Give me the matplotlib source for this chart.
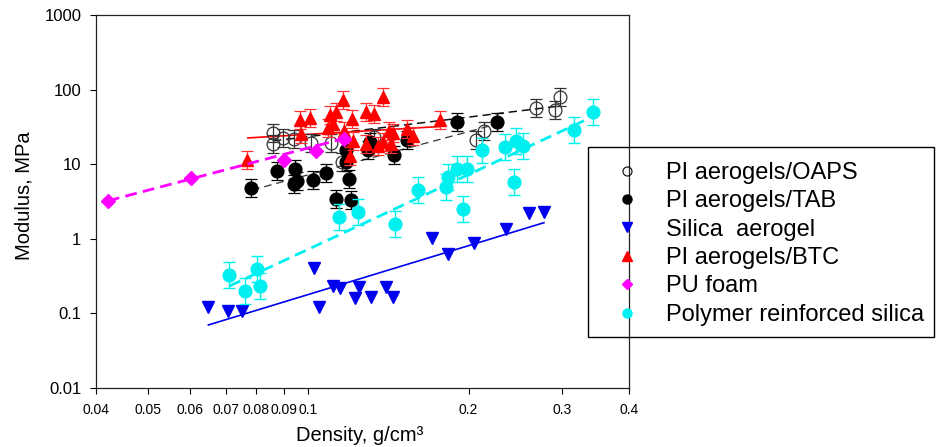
import matplotlib
matplotlib.use("Agg")
import matplotlib.pyplot as plt
from matplotlib.lines import Line2D
from matplotlib.patches import Rectangle
import numpy as np

plt.rcParams['font.family'] = ['Liberation Sans', 'DejaVu Sans']
plt.rcParams['lines.scale_dashes'] = False

# ---------------- data ----------------
oaps_x = [0.0861, 0.0861, 0.0897, 0.0940, 0.1012, 0.1102, 0.1160, 0.1330, 0.2066, 0.2141, 0.2676, 0.2905, 0.2968]
oaps_y = [26.4, 18.4, 22.3, 22.1, 19.0, 19.5, 10.6, 22.8, 20.9, 27.6, 56.6, 52.8, 79.6]

tab_x = [0.0781, 0.0873, 0.0945, 0.0952, 0.0940, 0.1023, 0.1081, 0.1127, 0.1203, 0.1193,
         0.1178, 0.1178, 0.1307, 0.1295, 0.1451, 0.1531, 0.1905, 0.2264]
tab_y = [4.80, 8.11, 8.71, 5.95, 5.43, 6.20, 7.62, 3.45, 3.28, 6.27,
         15.4, 10.7, 19.9, 15.5, 13.4, 20.9, 36.8, 36.8]

silica_x = [0.0650, 0.0707, 0.0753, 0.1026, 0.1048, 0.1112, 0.1148, 0.1248, 0.1223, 0.1315,
            0.1399, 0.1445, 0.1706, 0.1828, 0.2051, 0.2351, 0.2600, 0.2770]
silica_y = [0.123, 0.108, 0.109, 0.402, 0.123, 0.233, 0.221, 0.224, 0.159, 0.168,
            0.224, 0.168, 1.016, 0.625, 0.871, 1.34, 2.20, 2.31]

btc_x = [0.0769, 0.0966, 0.1008, 0.0968, 0.1099, 0.1128, 0.1165, 0.1091, 0.1115, 0.1208,
         0.1284, 0.1328, 0.1380, 0.1166, 0.1214, 0.1197, 0.1283, 0.1354, 0.1384, 0.1421,
         0.1443, 0.1431, 0.1533, 0.1576, 0.1768]
btc_y = [11.28, 38.8, 41.6, 25.6, 45.2, 50.1, 72.5, 31.0, 35.1, 40.4,
         50.8, 47.8, 79.1, 27.9, 20.5, 12.7, 18.9, 17.8, 19.9, 27.9,
         25.8, 18.9, 29.4, 23.9, 39.6]

pu_x = [0.0421, 0.0602, 0.0901, 0.1035, 0.1168]
pu_y = [3.23, 6.49, 11.56, 15.2, 22.1]

prs_x = [0.0711, 0.0762, 0.0803, 0.0812, 0.1144, 0.1242, 0.1456, 0.1608, 0.1814, 0.1832,
         0.1905, 0.1989, 0.1955, 0.2124, 0.2338, 0.2455, 0.2527, 0.2434, 0.3154, 0.3428]
prs_y = [0.327, 0.2015, 0.394, 0.233, 1.977, 2.31, 1.58, 4.47, 4.94, 6.80,
         8.62, 8.62, 2.49, 15.3, 16.8, 20.7, 17.5, 5.81, 28.7, 49.6]

# relative (multiplicative) error-bar factors
oaps_err = 1.32
tab_err = 1.32
btc_err = 1.32
prs_err = 1.49

# trend lines (end points)
oaps_fit_x = [0.0859, 0.2968]; oaps_fit_y = [20.5, 60.3]
tab_fit_x = [0.0785, 0.2261]; tab_fit_y = [4.51, 34.6]
silica_fit_x = [0.0650, 0.2770]; silica_fit_y = [0.070, 1.644]
btc_fit_x = [0.0771, 0.1768]; btc_fit_y = [22.5, 32.0]
pu_fit_x = [0.0421, 0.1168]; pu_fit_y = [3.23, 22.1]
prs_fit_x = [0.0712, 0.3310]; prs_fit_y = [0.233, 38.9]

labels = ['PI aerogels/OAPS', 'PI aerogels/TAB', 'Silica  aerogel',
          'PI aerogels/BTC', 'PU foam', 'Polymer reinforced silica']

xticks = [0.04, 0.05, 0.06, 0.07, 0.08, 0.09, 0.1, 0.2, 0.3, 0.4]
xticklabels = ['0.04', '0.05', '0.06', '0.07', '0.08', '0.09', '0.1', '0.2', '0.3', '0.4']
yticks = [0.01, 0.1, 1, 10, 100, 1000]
yticklabels = ['0.01', '0.1', '1', '10', '100', '1000']

# ---------------- figure ----------------
W, H = 938, 447
fig = plt.figure(figsize=(W / 100, H / 100), dpi=100)
ax = fig.add_axes([96 / W, 1 - 388 / H, (629 - 96) / W, (388 - 15) / H])
ax.set_xscale('log')
ax.set_yscale('log')


def yerr(y, f):
    y = np.asarray(y)
    return [y - y / f, y * f - y]


BLUE = '#0000ee'
CYAN = '#00f0f0'
RED = '#ff0000'
MAG = '#ff00ff'

# fit lines
ax.plot(tab_fit_x, tab_fit_y, color='#333333', lw=0.9, dashes=(5.5, 3.5), zorder=2)
ax.plot(oaps_fit_x, oaps_fit_y, color='#111111', lw=1.1, dashes=(6, 3.5), zorder=2)
ax.plot(silica_fit_x, silica_fit_y, color=BLUE, lw=1.2, zorder=2)
ax.plot(btc_fit_x, btc_fit_y, color=RED, lw=1.2, zorder=2)
ax.plot(prs_fit_x, prs_fit_y, color=CYAN, lw=2.0, dashes=(8.5, 4.5), zorder=2)

ms = 9.2
ax.errorbar(oaps_x, oaps_y, yerr=yerr(oaps_y, oaps_err), fmt='o', ms=ms, mfc='none',
            mec='#333333', mew=0.9, ecolor='#333333', elinewidth=0.9, capsize=4, capthick=0.9, zorder=3)
ax.errorbar(tab_x, tab_y, yerr=yerr(tab_y, tab_err), fmt='o', ms=ms, mfc='black',
            mec='black', ecolor='black', elinewidth=0.9, capsize=4, capthick=0.9, zorder=3)
ax.plot(silica_x, silica_y, 'v', ms=8.5, color=BLUE, zorder=4)
ax.errorbar(btc_x, btc_y, yerr=yerr(btc_y, btc_err), fmt='^', ms=8.5, mfc=RED, mec=RED,
            ecolor='#ff3030', elinewidth=0.9, capsize=4, capthick=0.9, zorder=4)
ax.plot(pu_fit_x, pu_fit_y, color=MAG, lw=2.0, dashes=(8.5, 4.5), zorder=5)
ax.plot(pu_x, pu_y, 'D', ms=7.5, color=MAG, zorder=5)
ax.errorbar(prs_x, prs_y, yerr=yerr(prs_y, prs_err), fmt='o', ms=ms, mfc=CYAN, mec=CYAN,
            ecolor=CYAN, elinewidth=1.0, capsize=4, capthick=1.0, zorder=5)

ax.set_xlim(0.04, 0.4)
ax.set_ylim(0.01, 1000)
ax.set_xticks(xticks)
ax.set_xticklabels(xticklabels)
ax.xaxis.set_minor_locator(matplotlib.ticker.NullLocator())
ax.set_yticks(yticks)
ax.set_yticklabels(yticklabels)
ax.yaxis.set_minor_locator(matplotlib.ticker.NullLocator())
ax.tick_params(axis='x', direction='out', length=4, width=0.8, labelsize=10, pad=7, colors='black')
ax.tick_params(axis='y', direction='out', length=4, width=0.8, labelsize=12, pad=6.5, colors='black')
for s in ax.spines.values():
    s.set_linewidth(0.9)
    s.set_color('#222222')

ax.set_xlabel('Density, g/cm³', fontsize=14.5)
ax.set_ylabel('Modulus, MPa', fontsize=14.5)
ax.xaxis.set_label_coords(0.495, -0.102)
ax.yaxis.set_label_coords(-0.118, 0.515)

# legend (frame drawn separately as a rectangle)
handles = [
    Line2D([], [], ls='none', marker='o', ms=6.5, mfc='none', mec='black', mew=0.8),
    Line2D([], [], ls='none', marker='o', ms=6.5, mfc='black', mec='black'),
    Line2D([], [], ls='none', marker='v', ms=6.5, mfc=BLUE, mec=BLUE),
    Line2D([], [], ls='none', marker='^', ms=6.5, mfc=RED, mec=RED),
    Line2D([], [], ls='none', marker='D', ms=5.5, mfc=MAG, mec=MAG),
    Line2D([], [], ls='none', marker='o', ms=6.5, mfc=CYAN, mec=CYAN),
]
leg = fig.legend(handles, labels, loc='upper left', bbox_to_anchor=(600 / W, 1 - 162 / H),
                 fontsize=17, frameon=False,
                 borderpad=0, labelspacing=0.27, handlelength=2.3, handletextpad=0.5,
                 borderaxespad=0)
fig.patches.append(Rectangle((588 / W, 1 - 337 / H), (934 - 588) / W, (337 - 147) / H,
                             transform=fig.transFigure, fill=False, edgecolor='black',
                             linewidth=1.0, zorder=10))

fig.savefig('out.png', dpi=100)
